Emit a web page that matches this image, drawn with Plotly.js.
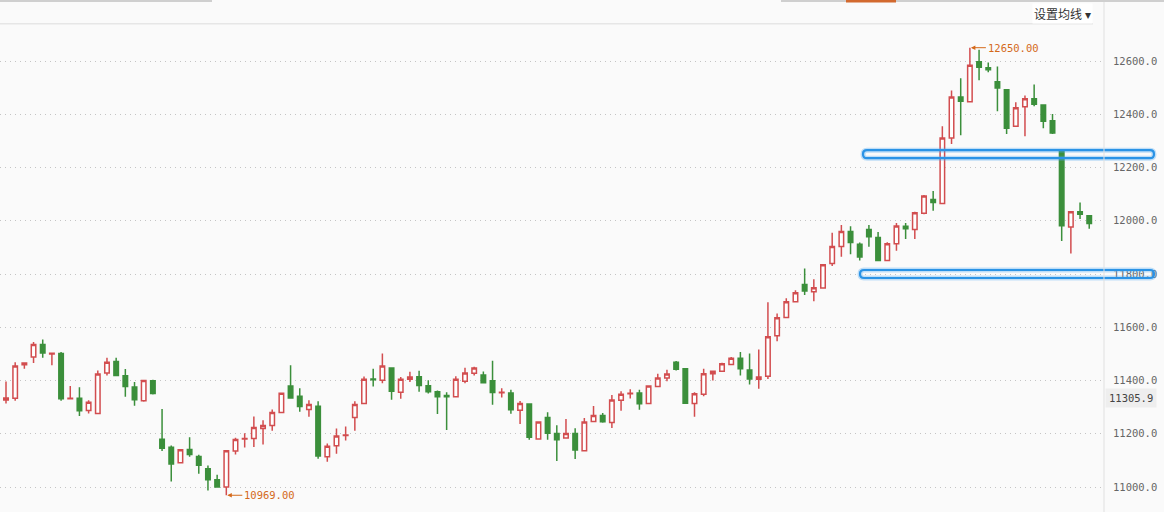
<!DOCTYPE html>
<html><head><meta charset="utf-8">
<script src="https://cdn.plot.ly/plotly-3.0.1.min.js"></script>
<style>html,body{margin:0;padding:0;background:#fafafa}#c{width:1164px;height:512px}</style>
</head><body><div id="c"></div>
<script>
const open_ = [11327,11333,11459,11488,11535,11500,11501,11331,11333,11287,11276,11428,11471,11418,11376,11324,11399,11179,11149,11091,11141,11115,11069,11027,11000,11135,11180,11182,11220,11231,11280,11379,11341,11291,11303,11114,11155,11193,11261,11314,11406,11401,11447,11356,11405,11414,11380,11358,11344,11339,11397,11427,11421,11399,11354,11353,11288,11312,11180,11261,11201,11184,11201,11136,11246,11269,11242,11326,11350,11353,11314,11377,11409,11469,11444,11314,11348,11425,11435,11460,11484,11439,11405,11416,11568,11637,11696,11761,11733,11747,11839,11903,11960,11912,11967,11937,11851,11914,11979,11967,12028,12080,12065,12311,12465,12447,12597,12575,12522,12492,12355,12428,12458,12435,12376,12260,11977,12034,12019];
const high = [11396,11469,11466,11545,11554,11502,11507,11379,11375,11326,11438,11485,11485,11443,11394,11403,11403,11293,11156,11140,11187,11121,11081,11046,11136,11185,11202,11265,11251,11291,11352,11457,11371,11326,11322,11163,11220,11227,11322,11415,11444,11501,11450,11413,11433,11437,11401,11362,11356,11416,11448,11452,11434,11474,11371,11365,11323,11312,11247,11281,11232,11255,11221,11259,11304,11278,11346,11360,11367,11365,11382,11425,11440,11473,11447,11356,11444,11435,11467,11488,11507,11501,11516,11694,11652,11709,11739,11821,11780,11835,11955,11984,11979,11918,11984,11958,11919,11992,11992,12034,12097,12112,12355,12489,12535,12650,12642,12594,12579,12492,12445,12470,12512,12435,12401,12260,12036,12069,12019];
const low = [11314,11324,11444,11466,11485,11457,11324,11329,11267,11276,11273,11419,11419,11339,11305,11320,11347,11135,11021,11091,11114,11050,10987,11000,10969,11122,11148,11150,11160,11211,11280,11332,11283,11264,11106,11095,11125,11175,11211,11314,11377,11390,11328,11331,11394,11358,11351,11274,11214,11337,11390,11419,11390,11309,11336,11275,11237,11177,11178,11177,11098,11184,11105,11136,11246,11241,11222,11286,11332,11290,11314,11377,11397,11438,11312,11264,11341,11400,11432,11457,11419,11385,11369,11406,11547,11637,11696,11721,11698,11747,11830,11865,11874,11851,11902,11851,11851,11887,11931,11931,12024,12038,12065,12288,12321,12447,12528,12558,12411,12326,12355,12317,12430,12347,12326,11924,11877,12007,11970];
const close_ = [11334,11454,11466,11535,11503,11502,11331,11333,11286,11318,11424,11469,11419,11377,11328,11400,11351,11146,11086,11140,11122,11082,11027,11000,11136,11178,11182,11223,11231,11280,11352,11334,11302,11310,11116,11153,11192,11195,11310,11405,11403,11454,11360,11405,11413,11381,11358,11339,11339,11405,11428,11447,11392,11355,11356,11290,11314,11187,11244,11202,11177,11201,11139,11244,11269,11245,11327,11348,11352,11313,11379,11409,11424,11442,11315,11350,11425,11435,11463,11484,11444,11406,11413,11564,11636,11696,11730,11736,11748,11835,11903,11960,11918,11864,11940,11851,11914,11980,11970,12030,12093,12069,12311,12465,12449,12584,12577,12567,12499,12347,12424,12458,12438,12374,12330,11981,12034,12024,11990];
const yTicks = [11000,11200,11400,11600,11800,12000,12200,12400,12600];
const levels = [12250, 11800];
const lastLabel = '11305.9';
const peakIdx = 105, troughIdx = 24;

const xs = open_.map((_, i) => i);
const RED = '#d24d4f', GREEN = '#3b8f3b';

const trace = {
  type: 'candlestick', x: xs, open: open_, high: high, low: low, close: close_,
  increasing: {line: {color: RED, width: 1.5}, fillcolor: '#ffffff'},
  decreasing: {line: {color: GREEN, width: 1.5}, fillcolor: GREEN},
  whiskerwidth: 0, hoverinfo: 'skip', showlegend: false
};

// pixel helpers (plot area: x 0..1103, y 24..510)
const PW = 1103, PH = 486, yMin = 10913.6, yMax = 12739;
const unitPerPx = (yMax - yMin) / PH;

function pill(v, x0px, x1px, color, w) {
  const x0 = x0px / PW, x1 = x1px / PW, r = 4 / PW;
  const h = 4 * unitPerPx, yt = v + h, yb = v - h;
  const path = `M ${x0 + r},${yt} L ${x1 - r},${yt} Q ${x1},${yt} ${x1},${v} Q ${x1},${yb} ${x1 - r},${yb} L ${x0 + r},${yb} Q ${x0},${yb} ${x0},${v} Q ${x0},${yt} ${x0 + r},${yt} Z`;
  return {type: 'path', xref: 'paper', yref: 'y', path: path, line: {color: color, width: w}, fillcolor: 'rgba(0,0,0,0)', layer: 'above'};
}

const shapes = [];
shapes.push(pill(levels[0], 863, 1154, 'rgba(80,170,240,0.35)', 5));
shapes.push(pill(levels[0], 863, 1154, '#2a93e6', 2.2));
shapes.push(pill(levels[1], 860, 1154, 'rgba(80,170,240,0.35)', 5));
shapes.push(pill(levels[1], 860, 1154, '#2a93e6', 2.2));
shapes.push({type: 'line', xref: 'paper', yref: 'paper', x0: 0, x1: 1093 / PW, y0: 1.0005, y1: 1.0005, line: {color: '#e6e6e6', width: 1.5}});
shapes.push({type: 'line', xref: 'paper', yref: 'paper', x0: 1.0009, x1: 1.0009, y0: -0.01, y1: 1.05, line: {color: '#e0e0e0', width: 1}});
shapes.push({type: 'rect', xref: 'paper', yref: 'paper', x0: 0, x1: 212 / PW, y0: 1 + 22 / PH, y1: 1 + 24 / PH, line: {width: 0}, fillcolor: '#cfcfcf'});
shapes.push({type: 'rect', xref: 'paper', yref: 'paper', x0: 781 / PW, x1: 1164 / PW, y0: 1 + 22 / PH, y1: 1 + 24 / PH, line: {width: 0}, fillcolor: '#cfcfcf'});
shapes.push({type: 'rect', xref: 'paper', yref: 'paper', x0: 846 / PW, x1: 896 / PW, y0: 1 + 21.5 / PH, y1: 1 + 24 / PH, line: {width: 0}, fillcolor: '#d2692e'});

const ORANGE = '#d4691a';
const annotations = [
  {x: peakIdx, y: high[peakIdx], xref: 'x', yref: 'y', text: high[peakIdx].toFixed(2), showarrow: true,
   ax: 16, ay: 0, xanchor: 'left', arrowhead: 2, arrowsize: 0.9, arrowwidth: 1, arrowcolor: ORANGE, standoff: 1,
   font: {family: 'DejaVu Sans Mono', size: 10.5, color: ORANGE}},
  {x: troughIdx, y: low[troughIdx], xref: 'x', yref: 'y', text: low[troughIdx].toFixed(2), showarrow: true,
   ax: 16, ay: 0, xanchor: 'left', arrowhead: 2, arrowsize: 0.9, arrowwidth: 1, arrowcolor: ORANGE, standoff: 1,
   font: {family: 'DejaVu Sans Mono', size: 10.5, color: ORANGE}},
  {x: 1131 / PW, y: 11334, xref: 'paper', yref: 'y', text: lastLabel, showarrow: false, xanchor: 'center',
   bgcolor: '#eeeeee', borderpad: 3, font: {family: 'DejaVu Sans Mono', size: 10.5, color: '#444'}},
  {x: 1093 / PW, y: 1 + 10 / PH, xref: 'paper', yref: 'paper', text: '设置均线 ▾', showarrow: false,
   xanchor: 'right', yanchor: 'middle', bgcolor: '#ffffff', borderpad: 1,
   font: {family: 'Noto Sans CJK SC', size: 12, color: '#333'}}
];

const layout = {
  width: 1164, height: 512,
  margin: {l: 0, r: 61, t: 24, b: 2, pad: 0},
  paper_bgcolor: '#fafafa', plot_bgcolor: '#fafafa',
  showlegend: false,
  xaxis: {range: [-0.654, 119.5], visible: false, rangeslider: {visible: false}, fixedrange: true},
  yaxis: {range: [yMin, yMax], side: 'right', tickvals: yTicks, ticktext: yTicks.map(v => v.toFixed(1)),
    showgrid: true, gridcolor: '#c4c4c4', griddash: '1px,4px', gridwidth: 1, zeroline: false, showline: false,
    ticks: '', ticklabelstandoff: 9, tickfont: {family: 'DejaVu Sans Mono', size: 10.5, color: '#666'}},
  shapes: shapes, annotations: annotations
};

Plotly.newPlot('c', [trace], layout, {staticPlot: true, displayModeBar: false});
</script></body></html>
